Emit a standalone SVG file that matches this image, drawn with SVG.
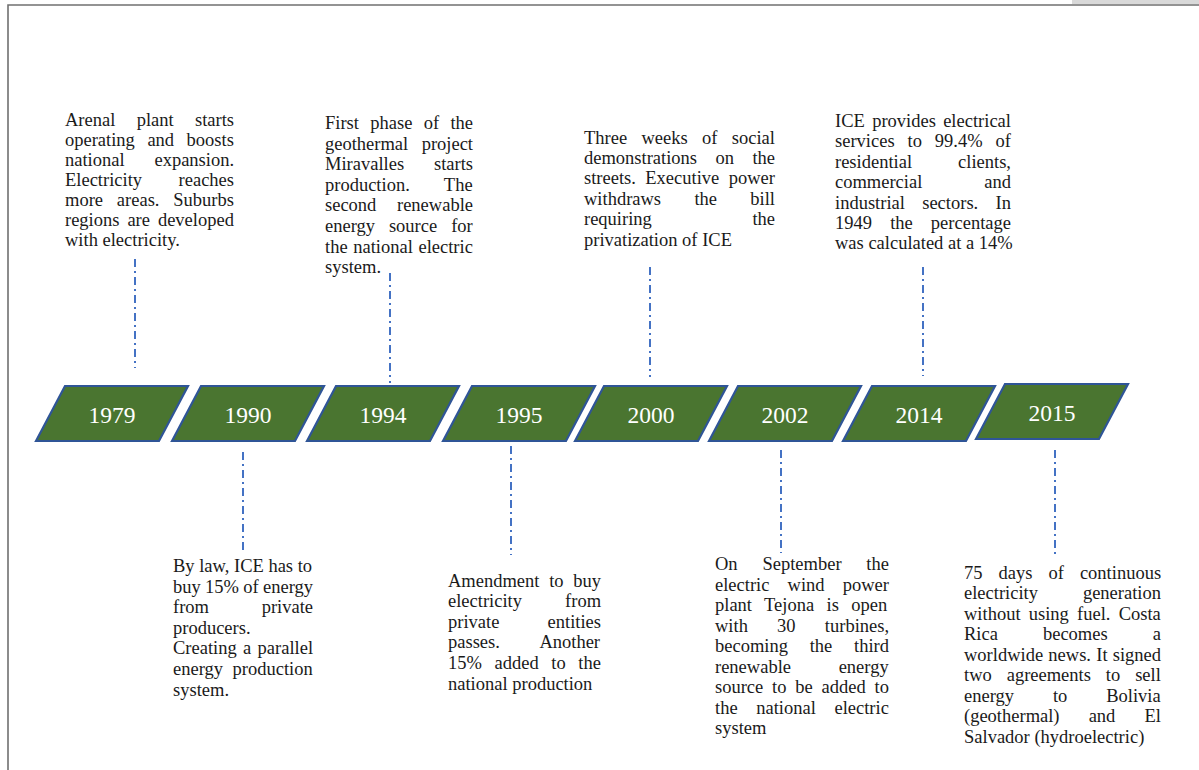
<svg xmlns="http://www.w3.org/2000/svg" width="1199" height="770" viewBox="0 0 1199 770">
<style>
.bg{fill:#ffffff}
.frame{fill:none;stroke:#707070;stroke-width:1.6}
.shape{fill:#4a7530;stroke:#2f5597;stroke-width:2.2;stroke-linejoin:miter}
.yr{font-family:"Liberation Serif","Times New Roman",serif;font-size:23.5px;fill:#ffffff;text-anchor:middle}
.t{font-family:"Liberation Serif","Times New Roman",serif;font-size:18.5px;fill:#1a1a1a}
.conn{stroke:#4472c4;stroke-width:2;stroke-dasharray:8 4 2 4;fill:none}
</style>
<defs>
<polygon id="para" points="0,55 29,0 152,0 123,55"/>
</defs>
<rect class="bg" x="0" y="0" width="1199" height="770"/>
<rect x="1072" y="0" width="127" height="4" fill="#d9d9d9"/>
<path class="frame" d="M8,770 V5 H1199"/>

<g id="connectors">
<line class="conn" x1="135" y1="259" x2="135" y2="368"/>
<line class="conn" x1="390" y1="273" x2="390" y2="383"/>
<line class="conn" x1="650" y1="267" x2="650" y2="377"/>
<line class="conn" x1="923" y1="267" x2="923" y2="376"/>
<line class="conn" x1="243" y1="452" x2="243" y2="551"/>
<line class="conn" x1="511" y1="446" x2="511" y2="555"/>
<line class="conn" x1="781" y1="450" x2="781" y2="553"/>
<line class="conn" x1="1055" y1="450" x2="1055" y2="558"/>
</g>

<g id="y1979">
<use href="#para" class="shape" x="36" y="386"/>
<text class="yr" x="112" y="423">1979</text>
<text class="t" x="65" y="125.5" word-spacing="16.7">Arenal plant starts</text>
<text class="t" x="65" y="145.5" word-spacing="7.9">operating and boosts</text>
<text class="t" x="65" y="165.5" word-spacing="25.2">national expansion.</text>
<text class="t" x="65" y="185.5" word-spacing="31.9">Electricity reaches</text>
<text class="t" x="65" y="205.5" word-spacing="9.2">more areas. Suburbs</text>
<text class="t" x="65" y="225.5" word-spacing="3.3">regions are developed</text>
<text class="t" x="65" y="245.5">with electricity.</text>
</g>

<g id="y1990">
<use href="#para" class="shape" x="172" y="386"/>
<text class="yr" x="248" y="423">1990</text>
<text class="t" x="173" y="572" word-spacing="0">By law, ICE has to</text>
<text class="t" x="173" y="592.6" word-spacing="-0.3">buy 15% of energy</text>
<text class="t" x="173" y="613.2" word-spacing="48.1">from private</text>
<text class="t" x="173" y="633.8">producers.</text>
<text class="t" x="173" y="654.4" word-spacing="1.7">Creating a parallel</text>
<text class="t" x="173" y="675" word-spacing="4.9">energy production</text>
<text class="t" x="173" y="695.6">system.</text>
</g>

<g id="y1994">
<use href="#para" class="shape" x="307" y="386"/>
<text class="yr" x="383" y="423">1994</text>
<text class="t" x="325" y="129" word-spacing="6.7">First phase of the</text>
<text class="t" x="325" y="149.6" word-spacing="8.8">geothermal project</text>
<text class="t" x="325" y="170.2" word-spacing="25.2">Miravalles starts</text>
<text class="t" x="325" y="190.8" word-spacing="29.8">production. The</text>
<text class="t" x="325" y="211.4" word-spacing="16">second renewable</text>
<text class="t" x="325" y="232" word-spacing="9.3">energy source for</text>
<text class="t" x="325" y="252.6" word-spacing="1">the national electric</text>
<text class="t" x="325" y="273.2">system.</text>
</g>

<g id="y1995">
<use href="#para" class="shape" x="443" y="386"/>
<text class="yr" x="519" y="423">1995</text>
<text class="t" x="448" y="586.5" word-spacing="5.1">Amendment to buy</text>
<text class="t" x="448" y="607.1" word-spacing="38.5">electricity from</text>
<text class="t" x="448" y="627.7" word-spacing="43.6">private entities</text>
<text class="t" x="448" y="648.3" word-spacing="35.9">passes. Another</text>
<text class="t" x="448" y="668.9" word-spacing="8">15% added to the</text>
<text class="t" x="448" y="689.5">national production</text>
</g>

<g id="y2000">
<use href="#para" class="shape" x="575" y="386"/>
<text class="yr" x="651" y="423">2000</text>
<text class="t" x="584" y="143.5" word-spacing="9.7">Three weeks of social</text>
<text class="t" x="584" y="163.9" word-spacing="13.8">demonstrations on the</text>
<text class="t" x="584" y="184.3" word-spacing="4.8">streets. Executive power</text>
<text class="t" x="584" y="204.7" word-spacing="28.7">withdraws the bill</text>
<text class="t" x="584" y="225.1" word-spacing="96">requiring the</text>
<text class="t" x="584" y="245.5">privatization of ICE</text>
</g>

<g id="y2002">
<use href="#para" class="shape" x="709" y="386"/>
<text class="yr" x="785" y="423">2002</text>
<text class="t" x="715" y="570" word-spacing="20.2">On September the</text>
<text class="t" x="715" y="590.5" word-spacing="13.5">electric wind power</text>
<text class="t" x="715" y="611" word-spacing="7.8">plant Tejona is open</text>
<text class="t" x="715" y="631.5" word-spacing="24.6">with 30 turbines,</text>
<text class="t" x="715" y="652" word-spacing="17.1">becoming the third</text>
<text class="t" x="715" y="672.5" word-spacing="43">renewable energy</text>
<text class="t" x="715" y="693" word-spacing="4.2">source to be added to</text>
<text class="t" x="715" y="713.5" word-spacing="14">the national electric</text>
<text class="t" x="715" y="734">system</text>
</g>

<g id="y2014">
<use href="#para" class="shape" x="843" y="386"/>
<text class="yr" x="919" y="423">2014</text>
<text class="t" x="835" y="127" word-spacing="2.7">ICE provides electrical</text>
<text class="t" x="835" y="147.4" word-spacing="8.3">services to 99.4% of</text>
<text class="t" x="835" y="167.8" word-spacing="41.4">residential clients,</text>
<text class="t" x="835" y="188.2" word-spacing="57.3">commercial and</text>
<text class="t" x="835" y="208.6" word-spacing="12.7">industrial sectors. In</text>
<text class="t" x="835" y="229" word-spacing="13.5">1949 the percentage</text>
<text class="t" x="835" y="249.4">was calculated at a 14%</text>
</g>

<g id="y2015">
<use href="#para" class="shape" x="976" y="384"/>
<text class="yr" x="1052" y="421">2015</text>
<text class="t" x="964" y="578.5" word-spacing="11.4">75 days of continuous</text>
<text class="t" x="964" y="599" word-spacing="40.3">electricity generation</text>
<text class="t" x="964" y="619.5" word-spacing="3.6">without using fuel. Costa</text>
<text class="t" x="964" y="640" word-spacing="40.4">Rica becomes a</text>
<text class="t" x="964" y="660.5" word-spacing="0.6">worldwide news. It signed</text>
<text class="t" x="964" y="681" word-spacing="10.3">two agreements to sell</text>
<text class="t" x="964" y="701.5" word-spacing="34.3">energy to Bolivia</text>
<text class="t" x="964" y="722" word-spacing="24.5">(geothermal) and El</text>
<text class="t" x="964" y="742.5">Salvador (hydroelectric)</text>
</g>
</svg>
